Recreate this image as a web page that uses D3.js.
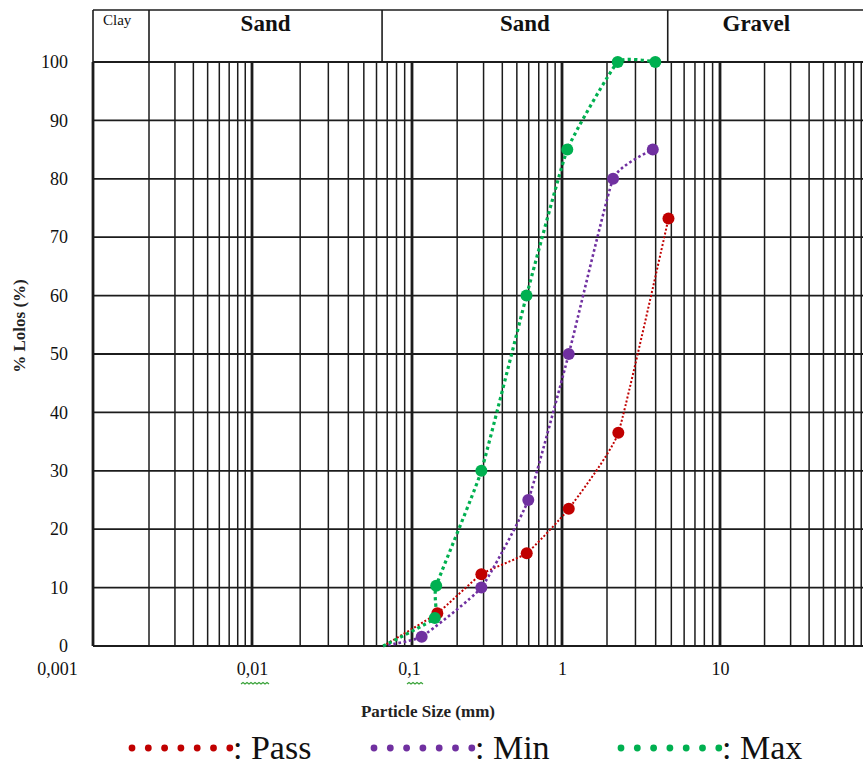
<!DOCTYPE html>
<html>
<head>
<meta charset="utf-8">
<script src="https://cdn.jsdelivr.net/npm/d3@7"></script>
<style>
  body { margin: 0; background: #fff; }
  svg { display: block; font-family: "Liberation Serif", "Times New Roman", serif; }
</style>
</head>
<body>
<svg id="chart" width="863" height="766"></svg>
<script>
// Sieve data (particle size in mm, % passing)
var sizePass = [0.066, 0.1475, 0.29, 0.582, 1.11, 2.35, 4.8];
var valuePass = [0, 5.6, 12.3, 15.9, 23.5, 36.5, 73.2];

var sizeMin = [0.066, 0.116, 0.29, 0.596, 1.11, 2.18, 3.84];
var valueMin = [0, 1.6, 10, 25, 50, 80, 85];

var sizeMax = [0.066, 0.142, 0.145, 0.29, 0.58, 1.085, 2.33, 3.98];
var valueMax = [0, 4.8, 10.3, 30, 60, 85, 100, 100];

// Axis ticks
var xDecades = [0.001, 0.01, 0.1, 1, 10, 100];
var xTickLabels = ["0,001", "0,01", "0,1", "1", "10"];
var yTicks = [0, 10, 20, 30, 40, 50, 60, 70, 80, 90, 100];

// Soil classes along the top
var classBounds = [0.001, 0.002, 0.065, 4.75, 100];
var classNames = ["Clay", "Sand", "Sand", "Gravel"];

var seriesNames = ["Pass", "Min", "Max"];
var seriesColors = ["#c00000", "#7030a0", "#00b050"];

var W = 863, H = 766;
var svg = d3.select("#chart");

// piecewise log scale, the grid in the picture is a bit uneven
var x = d3.scaleLog()
  .domain([0.001, 0.002, 0.01, 0.1, 1, 2, 10, 100])
  .range([93, 149, 252, 412, 562, 607, 720, 868]);

var y = d3.scaleLinear()
  .domain([0, 100])
  .range([646, 62]);

var gridColor = "#1c1c1c";

// Header band with class names
var headerTop = 10;
svg.append("line")
  .attr("x1", x(classBounds[0])).attr("x2", W)
  .attr("y1", headerTop).attr("y2", headerTop)
  .attr("stroke", gridColor).attr("stroke-width", 1.6);

svg.append("line")
  .attr("x1", x(classBounds[0])).attr("x2", x(classBounds[0]))
  .attr("y1", headerTop).attr("y2", y(100))
  .attr("stroke", gridColor).attr("stroke-width", 1.6);

svg.selectAll(".class-div")
  .data(classBounds.slice(1, -1))
  .enter().append("line")
  .attr("class", "class-div")
  .attr("x1", function(d) { return x(d); })
  .attr("x2", function(d) { return x(d); })
  .attr("y1", headerTop).attr("y2", y(100))
  .attr("stroke", gridColor).attr("stroke-width", 1.6);

svg.selectAll(".class-label")
  .data(classNames)
  .enter().append("text")
  .attr("class", "class-label")
  .attr("x", function(d, i) {
    if (i === 0) return x(classBounds[0]) + 10;
    var x0 = x(classBounds[i]), x1 = Math.min(x(classBounds[i + 1]), W);
    return (x0 + x1) / 2 - (i === classNames.length - 1 ? 9 : 0);
  })
  .attr("y", function(d, i) { return i === 0 ? 25 : 31; })
  .attr("text-anchor", function(d, i) { return i === 0 ? "start" : "middle"; })
  .style("font-size", function(d, i) { return i === 0 ? "15px" : "23px"; })
  .style("font-weight", function(d, i) { return i === 0 ? "normal" : "bold"; })
  .attr("fill", "#111")
  .text(function(d) { return d; });

// Log grid, 1..9 in each decade
var gridVals = [];
xDecades.slice(0, -1).forEach(function(d) {
  for (var k = 1; k <= 9; k++) gridVals.push({ v: k * d, major: k === 1 });
});

svg.selectAll(".vgrid")
  .data(gridVals)
  .enter().append("line")
  .attr("class", "vgrid")
  .attr("x1", function(d) { return x(d.v); })
  .attr("x2", function(d) { return x(d.v); })
  .attr("y1", y(100)).attr("y2", y(0))
  .attr("stroke", gridColor)
  .attr("stroke-width", function(d) { return d.major ? 2.8 : 1.5; });

svg.selectAll(".hgrid")
  .data(yTicks)
  .enter().append("line")
  .attr("class", "hgrid")
  .attr("x1", x(0.001)).attr("x2", W)
  .attr("y1", function(d) { return y(d); })
  .attr("y2", function(d) { return y(d); })
  .attr("stroke", gridColor)
  .attr("stroke-width", 1.8);

// Axes, labels only
var xAxis = svg.append("g")
  .attr("transform", "translate(0," + 659 + ")")
  .call(d3.axisBottom(x)
    .tickValues(xDecades.slice(0, -1))
    .tickSize(0)
    .tickFormat(function(d, i) { return xTickLabels[i]; }));
xAxis.select(".domain").remove();
xAxis.selectAll("text")
  .style("font-family", "Liberation Serif, serif")
  .style("font-size", "18px")
  .attr("fill", "#111")
  .attr("dx", function(d, i) { return i === 0 ? -36 : (i === 2 ? -3 : 0); });

// spell-check squiggles under two labels
function squiggle(x0, x1, yy) {
  var p = "M" + x0 + "," + yy;
  for (var xx = x0, up = true; xx < x1; xx += 2, up = !up) {
    p += "L" + (xx + 2) + "," + (yy + (up ? -1.5 : 0));
  }
  return p;
}
[[241, 268], [407, 423]].forEach(function(s) {
  svg.append("path")
    .attr("d", squiggle(s[0], s[1], 684))
    .attr("fill", "none")
    .attr("stroke", "#3aa33a")
    .attr("stroke-width", 1.2);
});

var yAxis = svg.append("g")
  .attr("transform", "translate(" + 71 + ",0)")
  .call(d3.axisLeft(y).tickValues(yTicks).tickSize(0).tickFormat(d3.format("d")));
yAxis.select(".domain").remove();
yAxis.selectAll("text")
  .style("font-family", "Liberation Serif, serif")
  .style("font-size", "18px")
  .attr("fill", "#111");

svg.append("text")
  .attr("x", 428).attr("y", 717)
  .attr("text-anchor", "middle")
  .style("font-size", "17px")
  .style("font-weight", "bold")
  .attr("fill", "#222")
  .text("Particle Size (mm)");

svg.append("text")
  .attr("transform", "translate(" + 25 + "," + 326 + ") rotate(-90)")
  .attr("text-anchor", "middle")
  .style("font-size", "17px")
  .style("font-weight", "bold")
  .attr("fill", "#222")
  .text("% Lolos (%)");

// Series
var series = [
  { name: seriesNames[0], color: seriesColors[0], w: 2, pts: d3.zip(sizePass, valuePass) },
  { name: seriesNames[1], color: seriesColors[1], w: 2.6, pts: d3.zip(sizeMin, valueMin) },
  { name: seriesNames[2], color: seriesColors[2], w: 3.2, pts: d3.zip(sizeMax, valueMax) }
];

// light smoothing only, the picture's segments are nearly straight
var line = d3.line()
  .x(function(d) { return x(d[0]); })
  .y(function(d) { return y(d[1]); })
  .curve(d3.curveCardinal.tension(0.6));

series.forEach(function(s) {
  svg.append("path")
    .datum(s.pts)
    .attr("d", line)
    .attr("fill", "none")
    .attr("stroke", s.color)
    .attr("stroke-width", s.w)
    .attr("stroke-dasharray", s.w + "," + s.w);
});

series.forEach(function(s) {
  svg.selectAll(null)
    .data(s.pts.filter(function(d) { return d[1] > 0; }))
    .enter().append("circle")
    .attr("cx", function(d) { return x(d[0]); })
    .attr("cy", function(d) { return y(d[1]); })
    .attr("r", 6)
    .attr("fill", s.color);
});

// Legend
var legendX = [132, 374, 621];
var legend = svg.selectAll(".legend")
  .data(series)
  .enter().append("g")
  .attr("class", "legend")
  .attr("transform", function(d, i) { return "translate(" + legendX[i] + "," + 748 + ")"; });

legend.each(function(d) {
  var g = d3.select(this);
  g.selectAll("circle")
    .data(d3.range(7))
    .enter().append("circle")
    .attr("cx", function(k) { return k * 16.3; })
    .attr("cy", 0)
    .attr("r", 3.4)
    .attr("fill", d.color);
  g.append("text")
    .attr("x", 101)
    .attr("y", 11)
    .style("font-size", "34px")
    .attr("fill", "#111")
    .text(": " + d.name);
});
</script>
</body>
</html>
